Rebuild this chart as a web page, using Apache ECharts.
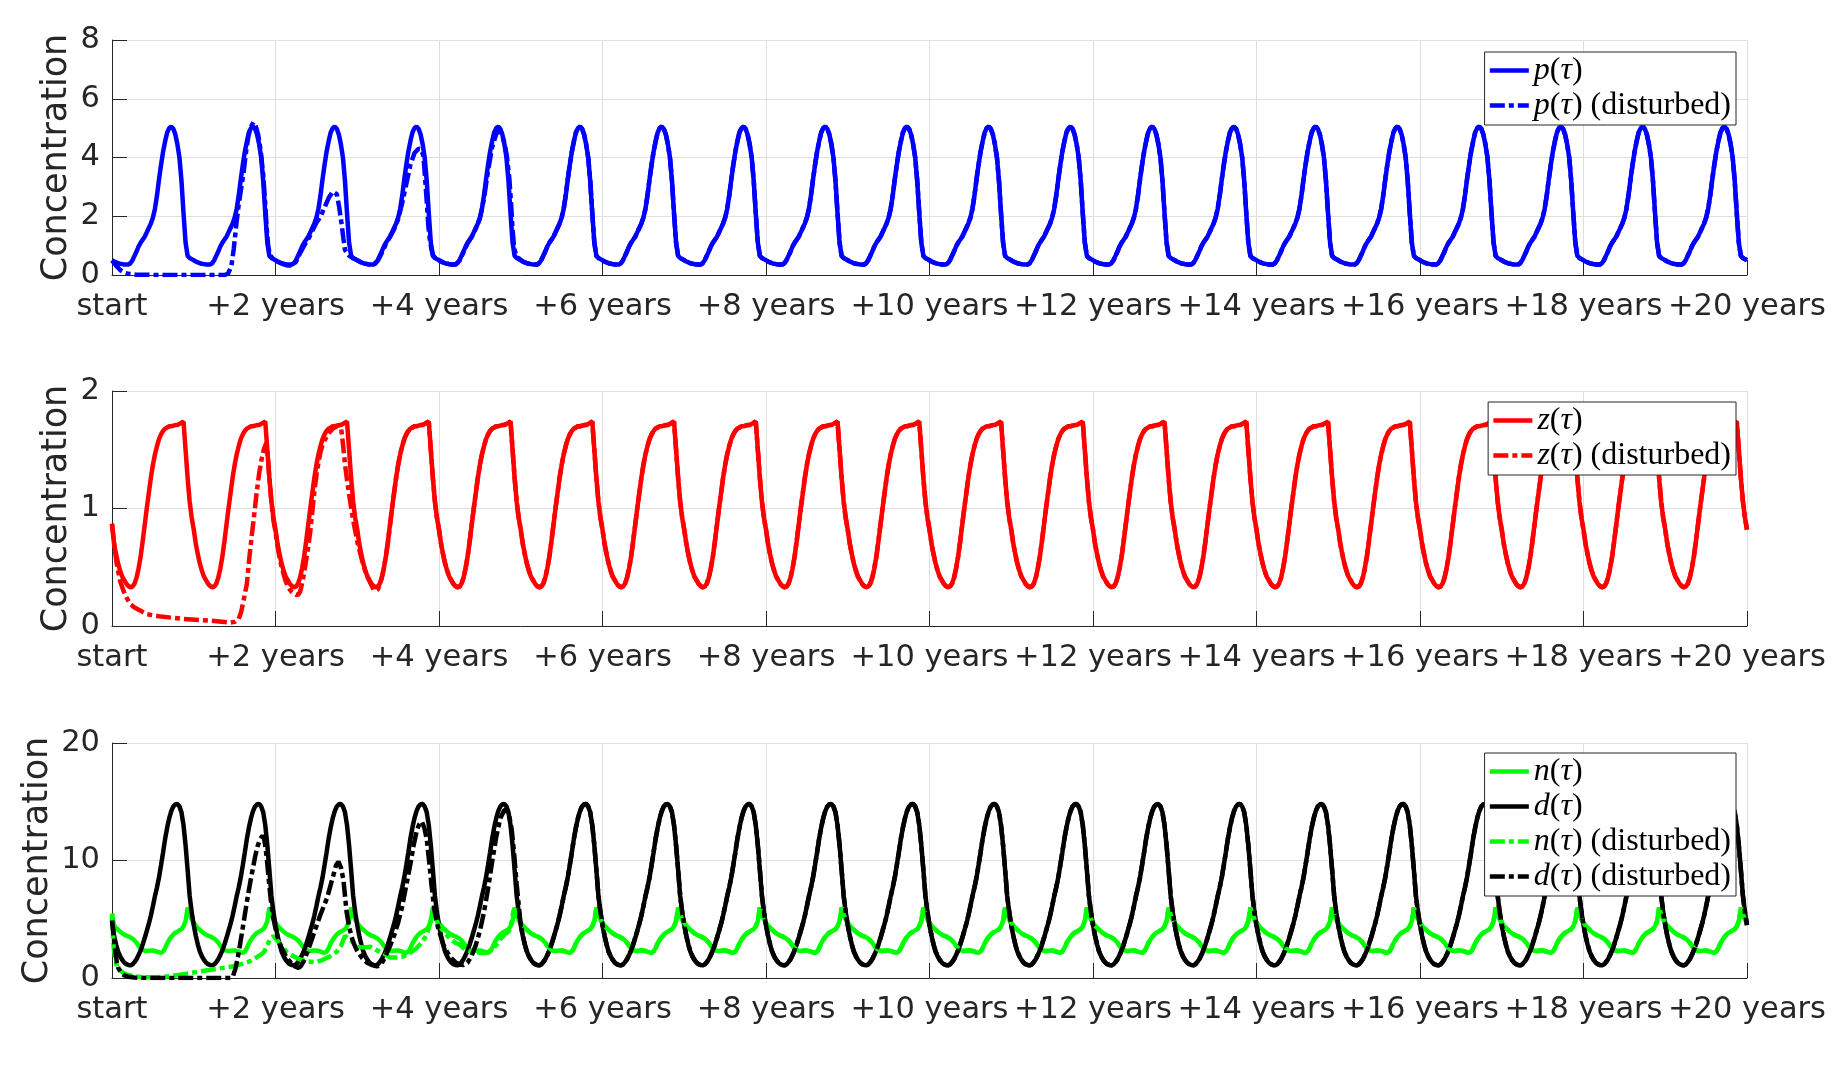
<!DOCTYPE html>
<html><head><meta charset="utf-8">
<script src="https://cdn.jsdelivr.net/npm/echarts@6/dist/echarts.min.js"></script>
<style>html,body{margin:0;padding:0;background:#fff}#c{width:1835px;height:1074px}</style>
</head><body><div id="c"></div><script>
// ---- data ----
const years = 20;
const xTickLabels = ['start','+2 years','+4 years','+6 years','+8 years','+10 years','+12 years','+14 years','+16 years','+18 years','+20 years'];
// one yearly cycle of the steady oscillation, sampled every 1/40 year (phase 0 .. 0.975)
const pCycle = [0.50,0.46,0.43,0.40,0.38,0.37,0.36,0.355,0.36,0.40,0.50,0.65,0.80,0.97,1.10,1.20,1.30,1.45,1.60,1.75,1.95,2.25,2.70,3.25,3.75,4.20,4.55,4.85,5.00,5.05,4.98,4.78,4.45,4.00,3.20,2.10,1.10,0.65,0.58,0.54];
const zCycle = [0.82,0.70,0.61,0.53,0.47,0.42,0.39,0.36,0.34,0.33,0.335,0.36,0.41,0.49,0.59,0.72,0.86,1.00,1.13,1.26,1.37,1.46,1.53,1.59,1.63,1.66,1.68,1.69,1.70,1.70,1.705,1.71,1.71,1.72,1.73,1.74,1.50,1.26,1.06,0.92];
const nCycle = [4.70,4.45,4.25,4.10,3.95,3.80,3.70,3.60,3.55,3.45,3.35,3.20,3.00,2.75,2.55,2.40,2.32,2.30,2.32,2.34,2.34,2.30,2.25,2.18,2.15,2.25,2.55,2.95,3.25,3.50,3.70,3.85,3.95,4.05,4.15,4.40,4.85,6.00,5.40,5.00];
const dCycle = [4.50,3.60,2.85,2.25,1.85,1.55,1.32,1.18,1.10,1.08,1.15,1.35,1.60,1.95,2.35,2.85,3.40,4.00,4.60,5.30,6.10,6.95,7.70,8.55,9.60,10.70,11.85,12.80,13.60,14.20,14.60,14.78,14.80,14.60,14.10,13.00,11.30,9.20,7.00,5.60];
// starting values of the undisturbed runs
const pStart = [[0,0.50]];
const zStart = [[0,0.87]];
const nStart = [[0,5.50]];
const dStart = [[0,5.00]];
// transient of the disturbed runs [year, value], before they rejoin the cycle
const pDisturbedStart = [[0,0.50],[0.05,0.32],[0.10,0.17],[0.15,0.08],[0.20,0.04],[0.30,0.01],[0.60,0.00],[1.00,0.00],[1.38,0.00],[1.42,0.05],[1.46,0.30],[1.49,0.90],[1.52,1.70],[1.55,2.40],[1.58,2.95],[1.61,3.50],[1.64,4.20],[1.67,4.75],[1.70,5.05],[1.73,5.20],[1.76,5.05],[1.79,4.75],[1.82,4.20],[1.85,3.40],[1.87,2.60],[1.89,1.70],[1.91,1.00],[1.93,0.70],[1.96,0.58],[2.00,0.50],[2.05,0.42],[2.10,0.36],[2.15,0.32],[2.20,0.32],[2.25,0.45],[2.30,0.74],[2.35,1.00],[2.40,1.22],[2.45,1.50],[2.50,1.78],[2.55,1.98],[2.60,2.30],[2.65,2.62],[2.70,2.84],[2.72,2.87],[2.75,2.75],[2.78,2.30],[2.81,1.70],[2.83,1.25],[2.85,0.85],[2.90,0.66],[2.95,0.57],[3.00,0.50],[3.05,0.43],[3.10,0.38],[3.15,0.36],[3.20,0.36],[3.25,0.48],[3.30,0.75],[3.35,1.05],[3.40,1.30],[3.45,1.55],[3.50,1.90],[3.55,2.45],[3.60,3.10],[3.65,3.75],[3.70,4.15],[3.75,4.30],[3.78,4.28],[3.81,4.05],[3.83,3.30],[3.85,2.50],[3.87,1.65],[3.89,1.15],[3.91,0.85],[3.93,0.65],[3.96,0.57],[4.00,0.50],[4.05,0.43],[4.10,0.38],[4.15,0.36],[4.20,0.36],[4.25,0.48],[4.30,0.78],[4.35,1.08],[4.40,1.30],[4.45,1.58],[4.50,1.92],[4.55,2.60],[4.60,3.55],[4.65,4.35],[4.70,4.80],[4.73,4.90],[4.76,4.85],[4.80,4.50],[4.83,4.05],[4.86,3.30],[4.88,2.50],[4.90,1.55],[4.92,0.90],[4.95,0.62],[4.98,0.56]];
const zDisturbedStart = [[0,0.87],[0.03,0.68],[0.06,0.52],[0.10,0.38],[0.14,0.30],[0.18,0.24],[0.22,0.19],[0.27,0.16],[0.35,0.13],[0.43,0.10],[0.60,0.08],[0.88,0.06],[1.20,0.045],[1.45,0.03],[1.50,0.035],[1.55,0.06],[1.58,0.12],[1.61,0.22],[1.65,0.36],[1.68,0.58],[1.71,0.77],[1.74,0.95],[1.77,1.14],[1.80,1.30],[1.83,1.42],[1.86,1.51],[1.89,1.56],[1.90,1.50],[1.925,1.26],[1.95,1.06],[1.975,0.90],[2.00,0.80],[2.025,0.68],[2.05,0.58],[2.075,0.50],[2.10,0.44],[2.125,0.38],[2.15,0.34],[2.175,0.31],[2.20,0.29],[2.225,0.275],[2.25,0.265],[2.275,0.265],[2.30,0.29],[2.325,0.36],[2.35,0.45],[2.375,0.56],[2.40,0.67],[2.425,0.80],[2.45,0.97],[2.475,1.14],[2.50,1.28],[2.525,1.39],[2.55,1.48],[2.575,1.54],[2.60,1.58],[2.625,1.61],[2.65,1.64],[2.675,1.66],[2.70,1.68],[2.725,1.69],[2.75,1.70],[2.775,1.71],[2.80,1.70],[2.825,1.55],[2.85,1.38],[2.875,1.24],[2.90,1.12],[2.925,1.01],[2.95,0.90],[2.975,0.81],[3.00,0.72],[3.05,0.58],[3.10,0.46],[3.15,0.38],[3.20,0.31],[3.225,0.30],[3.25,0.31],[3.275,0.35],[3.30,0.41],[3.325,0.49],[3.35,0.59],[3.375,0.71],[3.40,0.85]];
const nDisturbedStart = [[0,5.40],[0.02,2.60],[0.04,1.60],[0.06,1.00],[0.10,0.65],[0.14,0.43],[0.20,0.25],[0.27,0.14],[0.40,0.07],[0.55,0.07],[0.70,0.14],[0.90,0.35],[1.08,0.57],[1.30,0.80],[1.49,1.00],[1.60,1.22],[1.69,1.43],[1.76,1.72],[1.82,2.00],[1.86,2.20],[1.90,2.80],[1.94,3.40],[1.98,3.57],[2.02,3.20],[2.08,2.70],[2.14,2.20],[2.22,1.85],[2.30,1.57],[2.40,1.40],[2.50,1.35],[2.58,1.55],[2.67,1.85],[2.75,2.25],[2.80,2.70],[2.85,3.60],[2.90,3.30],[2.96,3.00],[3.02,2.65],[3.08,2.60],[3.16,2.65],[3.24,2.35],[3.32,2.10],[3.40,1.75],[3.48,1.75],[3.57,1.85],[3.65,2.15],[3.73,2.57],[3.80,3.10],[3.85,3.70],[3.89,4.60],[3.92,5.60],[3.94,5.60],[3.97,4.90],[4.00,4.50],[4.05,4.00],[4.10,3.60],[4.15,3.25],[4.20,3.00],[4.25,2.85],[4.30,2.55],[4.35,2.35],[4.40,2.25],[4.45,2.20],[4.50,2.15],[4.55,2.12],[4.60,2.20],[4.65,2.45],[4.70,2.80],[4.75,3.30],[4.80,3.70],[4.85,3.95],[4.88,4.40],[4.91,5.70],[4.93,5.90],[4.95,5.30],[4.975,4.90]];
const dDisturbedStart = [[0,4.90],[0.02,3.50],[0.04,2.30],[0.06,1.30],[0.08,0.80],[0.11,0.45],[0.15,0.22],[0.20,0.10],[0.27,0.04],[0.40,0.01],[0.80,0.00],[1.20,0.00],[1.45,0.00],[1.48,0.15],[1.51,0.80],[1.54,1.80],[1.57,3.00],[1.60,4.30],[1.63,5.60],[1.66,6.90],[1.69,8.10],[1.72,9.20],[1.75,10.30],[1.78,11.20],[1.81,11.80],[1.84,12.10],[1.86,11.90],[1.88,11.00],[1.90,9.70],[1.92,8.20],[1.94,6.80],[1.97,5.20],[2.00,4.20],[2.04,3.10],[2.08,2.50],[2.13,1.80],[2.18,1.35],[2.23,1.00],[2.28,0.86],[2.31,1.00],[2.35,1.50],[2.39,2.20],[2.43,3.00],[2.47,3.80],[2.51,4.60],[2.55,5.40],[2.59,6.10],[2.63,6.80],[2.67,7.80],[2.71,8.80],[2.74,9.60],[2.77,9.90],[2.80,9.40],[2.83,8.40],[2.85,7.00],[2.87,5.60],[2.90,4.40],[2.93,3.50],[2.96,2.90],[3.00,2.30],[3.06,1.70],[3.12,1.30],[3.18,1.10],[3.24,1.00],[3.28,1.05],[3.32,1.50],[3.36,2.10],[3.40,2.70],[3.45,3.60],[3.50,4.70],[3.55,6.10],[3.60,7.90],[3.65,9.70],[3.69,11.30],[3.73,12.60],[3.76,13.10],[3.79,13.30],[3.82,12.80],[3.85,11.80],[3.88,9.90],[3.91,7.80],[3.94,6.00],[3.97,4.80],[4.00,4.00],[4.05,2.90],[4.10,2.20],[4.15,1.70],[4.20,1.35],[4.25,1.15],[4.30,1.10],[4.35,1.30],[4.40,1.90],[4.45,2.80],[4.50,4.00],[4.55,5.60],[4.60,7.60],[4.65,9.90],[4.70,12.00],[4.75,13.60],[4.80,14.30],[4.83,14.30],[4.86,13.80],[4.89,12.60],[4.92,10.50],[4.95,8.00],[4.975,6.20]];

// ---- build series: leading values, then the repeating yearly cycle ----
function build(lead, cycle) {
  const pts = lead.map(function (d) { return [d[0], d[1]]; });
  const last = lead[lead.length - 1][0];
  const n = cycle.length;
  for (let yr = 0; yr < years; yr++) {
    for (let k = 0; k < n; k++) {
      const t = yr + k / n;
      if (t > last + 1e-9) pts.push([t, cycle[k]]);
    }
  }
  pts.push([years, cycle[0]]);
  return pts;
}

const FONT = 'DejaVu Sans';
const TXT = '#262626';
const DASH = [15, 4, 5, 4];
const LW = 4.5;
const gridTops = [40, 391, 743];
const yRanges = [[0, 8, 2], [0, 2, 1], [0, 20, 10]];
const yNameGaps = [38, 38, 57];

const chart = echarts.init(document.getElementById('c'), null, {renderer: 'canvas'});

const grids = gridTops.map(function (t) { return {left: 112, width: 1635, top: t, height: 235, containLabel: false}; });
const xAxes = gridTops.map(function (t, i) {
  return {
    type: 'value', gridIndex: i, min: 0, max: years, interval: 2,
    axisLine: {show: true, onZero: false, lineStyle: {color: TXT, width: 1}},
    axisTick: {show: true, inside: true, length: 15, lineStyle: {color: TXT, width: 1}},
    splitLine: {show: true, lineStyle: {color: '#dfdfdf', width: 1}},
    axisLabel: {
      margin: 17, color: TXT, fontFamily: FONT, fontSize: 30.5,
      formatter: function (v) { return xTickLabels[Math.round(v / 2)]; }
    }
  };
});
const yAxes = yRanges.map(function (r, i) {
  return {
    type: 'value', gridIndex: i, min: r[0], max: r[1], interval: r[2],
    name: 'Concentration', nameLocation: 'middle', nameGap: yNameGaps[i], nameMoveOverlap: false,
    nameTextStyle: {color: TXT, fontFamily: FONT, fontSize: 35},
    axisLine: {show: true, lineStyle: {color: TXT, width: 1}},
    axisTick: {show: true, inside: true, length: 15, lineStyle: {color: TXT, width: 1}},
    splitLine: {show: true, lineStyle: {color: '#dfdfdf', width: 1}},
    axisLabel: {margin: 12, color: TXT, fontFamily: FONT, fontSize: 30.5}
  };
});

function line(name, idx, data, color, dashed) {
  return {
    name: name, type: 'line', xAxisIndex: idx, yAxisIndex: idx, data: data,
    symbol: 'none', showSymbol: false, animation: false, silent: true,
    itemStyle: {color: color},
    lineStyle: {color: color, width: LW, type: dashed ? DASH : 'solid'}
  };
}

const series = [
  line('p(τ)', 0, build(pStart, pCycle), '#0000ff', false),
  line('p(τ) (disturbed)', 0, build(pDisturbedStart, pCycle), '#0000ff', true),
  line('z(τ)', 1, build(zStart, zCycle), '#ff0000', false),
  line('z(τ) (disturbed)', 1, build(zDisturbedStart, zCycle), '#ff0000', true),
  line('n(τ)', 2, build(nStart, nCycle), '#00ff00', false),
  line('d(τ)', 2, build(dStart, dCycle), '#000000', false),
  line('n(τ) (disturbed)', 2, build(nDisturbedStart, nCycle), '#00ff00', true),
  line('d(τ) (disturbed)', 2, build(dDisturbedStart, dCycle), '#000000', true)
];

const SERIF = 'Liberation Serif';
const LFS = 32;
function legendFmt(name) {
  const letter = name.charAt(0);
  const rest = name.slice(4);
  return '{i|' + letter + '}{r|(}{i|τ}{r|)' + rest + '}';
}
function legend(top, names) {
  return {
    data: names, orient: 'vertical', right: 99, top: top,
    backgroundColor: '#ffffff', borderColor: TXT, borderWidth: 1,
    padding: [1, 5, 2, 3], itemGap: 0, itemWidth: 39, itemHeight: 14,
    selectedMode: false, formatter: legendFmt,
    itemStyle: {opacity: 0, borderWidth: 0},
    lineStyle: {width: LW},
    textStyle: {
      color: '#000', fontFamily: SERIF, fontSize: LFS, lineHeight: 35,
      rich: {
        i: {fontFamily: SERIF, fontStyle: 'italic', fontSize: LFS, lineHeight: 35, color: '#000'},
        r: {fontFamily: SERIF, fontSize: LFS, lineHeight: 35, color: '#000'}
      }
    }
  };
}

chart.setOption({
  animation: false,
  backgroundColor: '#ffffff',
  grid: grids,
  xAxis: xAxes,
  yAxis: yAxes,
  legend: [
    legend(52, ['p(τ)', 'p(τ) (disturbed)']),
    legend(402, ['z(τ)', 'z(τ) (disturbed)']),
    legend(753, ['n(τ)', 'd(τ)', 'n(τ) (disturbed)', 'd(τ) (disturbed)'])
  ],
  series: series
});
</script></body></html>
